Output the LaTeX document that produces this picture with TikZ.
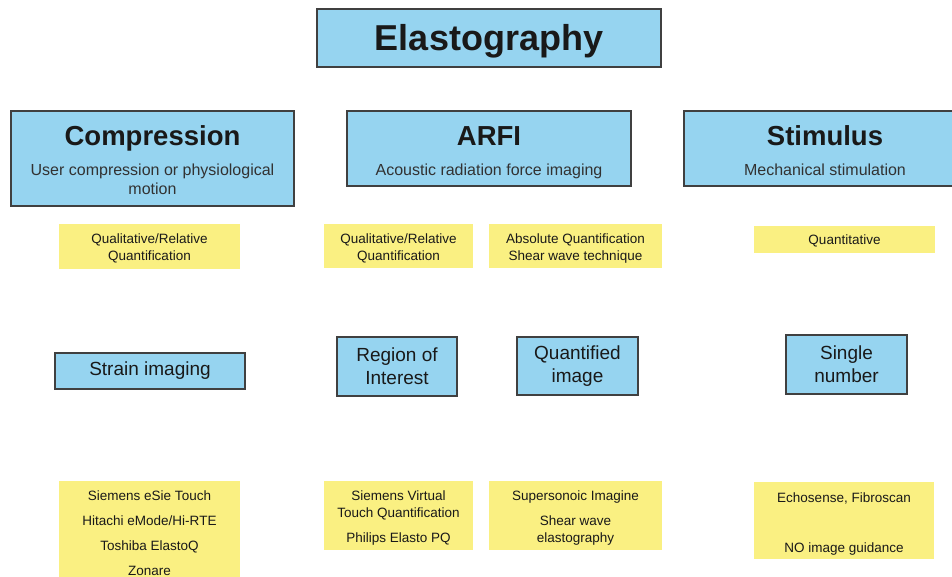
\documentclass[tikz,border=0pt]{standalone}
\usepackage{fontspec}
\setmainfont{Liberation Sans}
\definecolor{boxblue}{RGB}{150,212,240}
\definecolor{boxyellow}{RGB}{250,240,130}
\definecolor{edgegray}{RGB}{64,64,64}
\definecolor{inkdark}{RGB}{25,25,25}
\definecolor{inksub}{RGB}{50,50,50}
\newcommand\toppad{\rule{0pt}{15.5pt}}
\begin{document}
\begin{tikzpicture}[x=1pt,y=-1pt,
  bluebox/.style={draw=edgegray, line width=1.1pt, fill=boxblue, inner sep=0pt, text=inkdark, align=center},
  yellowbox/.style={fill=boxyellow, inner sep=0pt, text=inkdark, align=center, font=\fontsize{13.5}{17}\selectfont},
  midbox/.style={bluebox, font=\fontsize{19}{23}\selectfont},
  headtext/.style={anchor=base, inner sep=0pt, text=inkdark, font=\fontsize{27.5}{30}\bfseries},
  subtext/.style={anchor=base, inner sep=0pt, text=inksub, align=center, font=\fontsize{16}{19}\selectfont},
]
\useasboundingbox (0,0) rectangle (952,576);

% top
\node[bluebox, minimum width=344pt, minimum height=58pt] (elbox) at (489,38) {};
\node[anchor=base, inner sep=0pt, text=inkdark, font=\fontsize{36}{40}\bfseries] (eltext) at (489,50) {Elastography};

% headers
\node[bluebox, minimum width=283pt, minimum height=95pt] (compbox) at (152.5,158.5) {};
\node[headtext] (comptitle) at (152.5,145) {Compression};
\node[subtext] (compsub) at (152.5,175) {User compression or physiological};
\node[subtext] (compsub2) at (152.5,194) {motion};

\node[bluebox, minimum width=284pt, minimum height=75pt] (arfibox) at (489,148.5) {};
\node[headtext] (arfititle) at (489,145) {ARFI};
\node[subtext] (arfisub) at (489,175) {Acoustic radiation force imaging};

\node[bluebox, minimum width=282pt, minimum height=75pt] (stimbox) at (825,148.5) {};
\node[headtext] (stimtitle) at (825,145) {Stimulus};
\node[subtext] (stimsub) at (825,175) {Mechanical stimulation};

% top yellow
\node[yellowbox, minimum width=181pt, minimum height=45pt] (y1) at (149.5,246.5) {\rule{0pt}{14.5pt}Qualitative/Relative\\Quantification};
\node[yellowbox, minimum width=149pt, minimum height=44pt] (y2) at (398.5,246) {\rule{0pt}{14.5pt}Qualitative/Relative\\Quantification};
\node[yellowbox, minimum width=173pt, minimum height=44pt] (y3) at (575.5,246) {\rule{0pt}{14.5pt}Absolute Quantification\\Shear wave technique};
\node[yellowbox, minimum width=181pt, minimum height=27pt] (y4) at (844.5,239.5) {\rule{0pt}{13pt}Quantitative};

% middle blue
\node[midbox, minimum width=190pt, minimum height=36pt] (m1) at (150,371) {Strain imaging};
\node[midbox, minimum width=120pt, minimum height=59pt] (m2) at (397,366.5) {Region of\\Interest};
\node[midbox, minimum width=121pt, minimum height=58pt] (m3) at (577.5,366) {Quantified\\image};
\node[midbox, minimum width=121pt, minimum height=59pt] (m4) at (846.5,364.5) {Single\\number};

% bottom yellow
\node[yellowbox, minimum width=181pt, minimum height=105pt] (b1) at (149.5,533.5)
  {Siemens eSie Touch\\[8pt]Hitachi eMode/Hi-RTE\\[8pt]Toshiba ElastoQ\\[8pt]Zonare};
\node[yellowbox, minimum width=149pt, minimum height=69pt] (b2) at (398.5,515.5)
  {\toppad Siemens Virtual\\Touch Quantification\\[8pt]Philips Elasto PQ};
\node[yellowbox, minimum width=173pt, minimum height=69pt] (b3) at (575.5,515.5)
  {\toppad Supersonoic Imagine\\[8pt]Shear wave\\elastography};
\node[yellowbox, minimum width=180pt, minimum height=77pt] (b4) at (844,520.5)
  {\rule{0pt}{17pt}Echosense, Fibroscan\\[33pt]NO image guidance};
\end{tikzpicture}
\end{document}
